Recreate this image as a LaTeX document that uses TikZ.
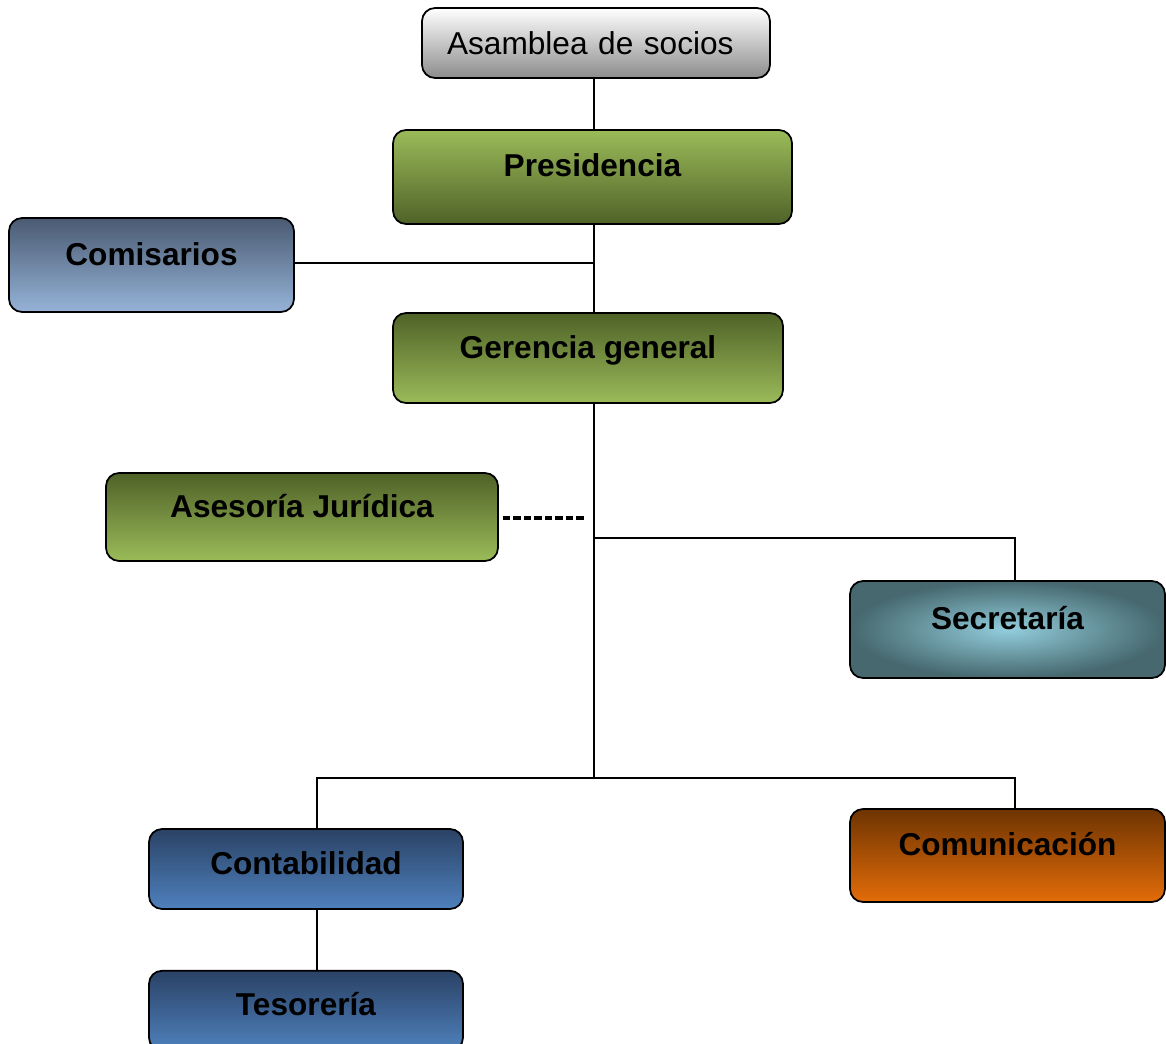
\documentclass[tikz,border=0pt]{standalone}
\usepackage{fontspec}
\setmainfont{Liberation Sans}
\usetikzlibrary{positioning,calc}
\definecolor{greenlight}{RGB}{155,187,89}
\definecolor{greendark}{RGB}{79,98,40}
\definecolor{slatedark}{RGB}{74,90,114}
\definecolor{slatelight}{RGB}{149,179,215}
\definecolor{bluedark}{RGB}{42,66,101}
\definecolor{bluelight}{RGB}{79,129,189}
\definecolor{orangedark}{RGB}{110,52,2}
\definecolor{orangelight}{RGB}{227,108,9}
\definecolor{aquaglow}{RGB}{146,205,220}
\definecolor{aquadark}{RGB}{70,104,110}

\begin{document}
\begin{tikzpicture}[
x=0.02cm, y=-0.02cm,
box/.style={draw, line width=1pt, rounded corners=0.26cm, align=center,
  text height=0.35cm, text depth=0.35cm, font=\fontsize{18}{21}\selectfont\bfseries},
lowtext/.style={text height=0.45cm, text depth=0.25cm},
link/.style={line width=0.8pt}
]
\useasboundingbox (0,0) rectangle (1166,1044);
\clip (0,0) rectangle (1166,1044);

\node[box, font=\fontsize{18}{21}\selectfont, text height=0.45cm, text depth=0cm,
  minimum width=6.96cm, minimum height=1.4cm, text width=5.96cm, align=left,
  top color=white, middle color=black!8, bottom color=black!45] (asamblea) at (596,43) {Asamblea de socios};
\node[box, minimum width=7.98cm, minimum height=1.88cm,
  top color=greenlight, middle color=greenlight!88!greendark, bottom color=greendark] (pres) at (592.5,177) {Presidencia};
\node[box, minimum width=5.7cm, minimum height=1.88cm,
  top color=slatedark, middle color=slatelight!60!slatedark, bottom color=slatelight] (comis) at (151.5,265) {Comisarios};
\node[box, minimum width=7.8cm, minimum height=1.8cm,
  top color=greendark, middle color=greenlight!65!greendark, bottom color=greenlight] (geren) at (588,358) {Gerencia general};
\node[box, minimum width=7.84cm, minimum height=1.76cm,
  top color=greendark, middle color=greenlight!65!greendark, bottom color=greenlight] (ases) at (302,517) {Asesoría Jurídica};
\node[box, minimum width=6.3cm, minimum height=1.94cm,
  inner color=aquaglow, outer color=aquadark] (secre) at (1007.5,629.5) {Secretaría};
\node[box, minimum width=6.3cm, minimum height=1.86cm,
  top color=orangedark, middle color=orangelight!70!orangedark, bottom color=orangelight] (comun) at (1007.5,855.5) {Comunicación};
\node[box, lowtext, minimum width=6.28cm, minimum height=1.6cm,
  top color=bluedark, middle color=bluelight!70!bluedark, bottom color=bluelight] (conta) at (306,869) {Contabilidad};
\node[box, lowtext, minimum width=6.28cm, minimum height=1.6cm, below=1.2cm of conta,
  top color=bluedark, middle color=bluelight!70!bluedark, bottom color=bluelight] (teso) {Tesorería};

\coordinate (hubsec) at (594,538);
\coordinate (hubbot) at (594,778);
\coordinate (dashend) at (584,518);

\draw[link] (asamblea.south -| hubbot) -- (pres.north -| hubbot);
\draw[link] (pres.south -| hubbot) -- (geren.north -| hubbot);
\draw[link] (comis.east |- 0,263) -- (594,263);
\draw[link] (geren.south -| hubbot) -- (hubbot);
\draw[link] (hubsec) -| (secre.north -| 1015,0);
\draw[link] (hubbot) -| (1015,809);
\draw[link] (hubbot) -| (conta.north -| 317,0);
\draw[link] (conta.south -| 317,0) -- (teso.north -| 317,0);
\draw[line width=2.2pt, dash pattern=on 0.15cm off 0.06cm] ([xshift=0.08cm]ases.east |- dashend) -- (dashend);
\end{tikzpicture}
\end{document}
